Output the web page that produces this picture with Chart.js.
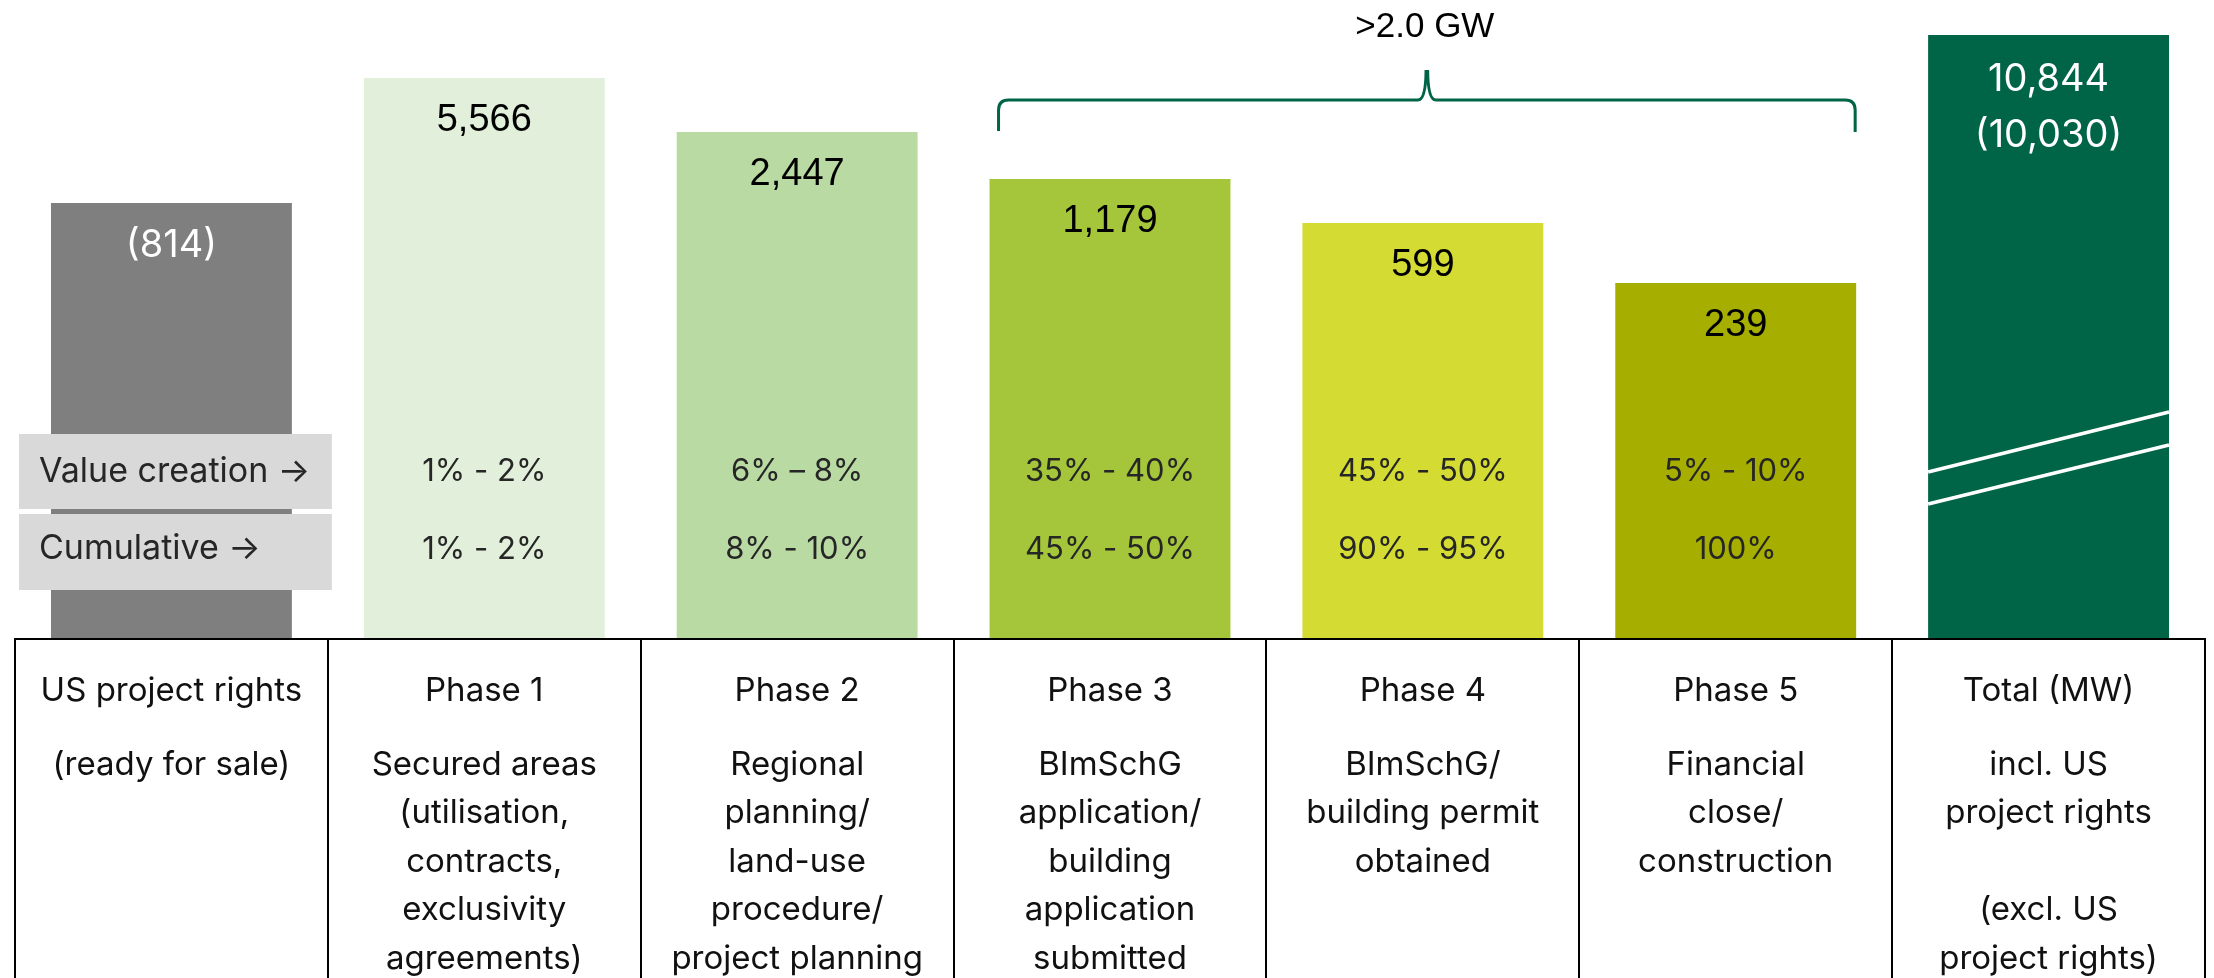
<!DOCTYPE html>
<html>
<head>
<meta charset="utf-8">
<script src="https://cdn.jsdelivr.net/npm/chart.js@4.4.1/dist/chart.umd.min.js"></script>
<style>
  html, body { margin: 0; padding: 0; background: #ffffff; }
  canvas { display: block; }
</style>
</head>
<body>
<canvas id="c" width="2214" height="978"></canvas>
<script>
// ---- data ----
const categories = ["US project rights", "Phase 1", "Phase 2", "Phase 3", "Phase 4", "Phase 5", "Total (MW)"];
// schematic bar heights as drawn in the picture (bars are not to scale)
const barHeights = [435, 560, 506, 459, 415, 355, 603];
const barLabels = ["(814)", "5,566", "2,447", "1,179", "599", "239", "10,844"];
const totalExclLabel = "(10,030)";
const valueCreation = ["", "1% - 2%", "6% \u2013 8%", "35% - 40%", "45% - 50%", "5% - 10%", ""];
const cumulative = ["", "1% - 2%", "8% - 10%", "45% - 50%", "90% - 95%", "100%", ""];
const rowLabels = ["Value creation \u2192", "Cumulative \u2192"];
const bracketLabel = ">2.0 GW";
const tableTitles = ["US project rights", "Phase 1", "Phase 2", "Phase 3", "Phase 4", "Phase 5", "Total (MW)"];
const tableDetails = [
  ["(ready for sale)"],
  ["Secured areas", "(utilisation,", "contracts,", "exclusivity", "agreements)"],
  ["Regional", "planning/", "land-use", "procedure/", "project planning"],
  ["BImSchG", "application/", "building", "application", "submitted"],
  ["BImSchG/", "building permit", "obtained"],
  ["Financial", "close/", "construction"],
  ["incl. US", "project rights", "", "(excl. US", "project rights)"]
];
const barColors = ["#7f7f7f", "#e2efda", "#b9daa3", "#a5c63b", "#d4db33", "#a6ae00", "#006446"];

const SANS = "Inter, 'Open Sans', sans-serif";
const ARIAL = "'Liberation Sans', Arial, sans-serif";

const overlay = {
  id: 'overlay',
  afterDatasetsDraw(chart) {
    const ctx = chart.ctx;
    const meta = chart.getDatasetMeta(0);
    const ys = chart.scales.y;
    const area = chart.chartArea;
    const n = categories.length;
    const colW = (area.right - area.left) / n;
    const base = ys.getPixelForValue(0);
    ctx.save();

    // value creation / cumulative boxes
    const boxL = area.left + 4, boxR = area.left + colW + 4;
    const rows = [[434, 509], [514, 590]];
    rows.forEach((r, i) => {
      ctx.fillStyle = "#d9d9d9";
      ctx.fillRect(boxL, r[0], boxR - boxL, r[1] - r[0]);
      ctx.fillStyle = "#262626";
      ctx.font = "34px " + SANS;
      ctx.textAlign = "left";
      ctx.textBaseline = "middle";
      ctx.fillText(rowLabels[i], boxL + 20, (r[0] + r[1]) / 2 - (i === 1 ? 3 : 0));
    });

    // bar labels and percentages
    meta.data.forEach((bar, i) => {
      const x = bar.x;
      const top = bar.y;
      ctx.textAlign = "center";
      ctx.textBaseline = "middle";
      if (i === 0 || i === n - 1) {
        ctx.fillStyle = "#ffffff";
        ctx.font = "38px " + SANS;
      } else {
        ctx.fillStyle = "#000000";
        ctx.font = "38px " + ARIAL;
      }
      ctx.fillText(barLabels[i], x, top + (i === n - 1 ? 45 : 43));
      if (i === n - 1) ctx.fillText(totalExclLabel, x, top + 101);

      ctx.fillStyle = "#262626";
      ctx.font = "31px " + SANS;
      if (valueCreation[i]) ctx.fillText(valueCreation[i], x, 472);
      if (cumulative[i]) ctx.fillText(cumulative[i], x, 550);
    });

    // break lines in total bar
    const tb = meta.data[n - 1];
    const tl = tb.x - tb.width / 2, tr = tb.x + tb.width / 2;
    ctx.strokeStyle = "#ffffff";
    ctx.lineWidth = 3.5;
    [[166, 226], [134, 193]].forEach(([a, b]) => {
      ctx.beginPath();
      ctx.moveTo(tl, base - a);
      ctx.lineTo(tr, base - b);
      ctx.stroke();
    });

    // bracket over phases 3-5
    const b3 = meta.data[3], b5 = meta.data[5];
    const L = b3.x - b3.width / 2 + 9, R = b5.x + b5.width / 2 - 1;
    const M = (L + R) / 2;
    const hy = 100, by = 131, sy = 70;
    ctx.strokeStyle = "#006446";
    ctx.lineWidth = 3;
    ctx.lineCap = "butt";
    ctx.lineJoin = "round";
    ctx.beginPath();
    ctx.moveTo(L, by);
    ctx.lineTo(L, hy + 10);
    ctx.quadraticCurveTo(L, hy, L + 10, hy);
    ctx.lineTo(M - 9, hy);
    ctx.quadraticCurveTo(M - 1, hy, M - 0.8, sy);
    ctx.stroke();
    ctx.beginPath();
    ctx.moveTo(M + 0.8, sy);
    ctx.quadraticCurveTo(M + 1, hy, M + 9, hy);
    ctx.lineTo(R - 10, hy);
    ctx.quadraticCurveTo(R, hy, R, hy + 10);
    ctx.lineTo(R, by + 1);
    ctx.stroke();

    ctx.fillStyle = "#000000";
    ctx.font = "35px " + ARIAL;
    ctx.textAlign = "center";
    ctx.textBaseline = "middle";
    ctx.fillText(bracketLabel, M - 2, 27);

    // table
    ctx.strokeStyle = "#000000";
    ctx.lineWidth = 2;
    ctx.beginPath();
    ctx.moveTo(area.left, base + 1);
    ctx.lineTo(area.right, base + 1);
    for (let k = 0; k <= n; k++) {
      const x = Math.round(area.left + k * colW);
      ctx.moveTo(x, base);
      ctx.lineTo(x, chart.height);
    }
    ctx.stroke();

    ctx.fillStyle = "#111111";
    ctx.font = "33px " + SANS;
    ctx.textAlign = "center";
    ctx.textBaseline = "middle";
    for (let k = 0; k < n; k++) {
      const cx = area.left + (k + 0.5) * colW;
      ctx.fillText(tableTitles[k], cx, 691);
      tableDetails[k].forEach((line, j) => {
        if (line) ctx.fillText(line, cx, 765 + j * 48.5);
      });
    }
    ctx.restore();
  }
};

new Chart(document.getElementById('c'), {
  type: 'bar',
  data: {
    labels: categories,
    datasets: [{
      data: barHeights,
      backgroundColor: barColors,
      borderWidth: 0,
      categoryPercentage: 1.0,
      barPercentage: 0.77
    }]
  },
  options: {
    responsive: false,
    devicePixelRatio: 1,
    animation: false,
    layout: { padding: { left: 15, right: 9, top: 0, bottom: 340 } },
    scales: {
      x: { display: false },
      y: { display: false, min: 0, max: 638 }
    },
    plugins: {
      legend: { display: false },
      tooltip: { enabled: false }
    },
    events: []
  },
  plugins: [overlay]
});
</script>
</body>
</html>
